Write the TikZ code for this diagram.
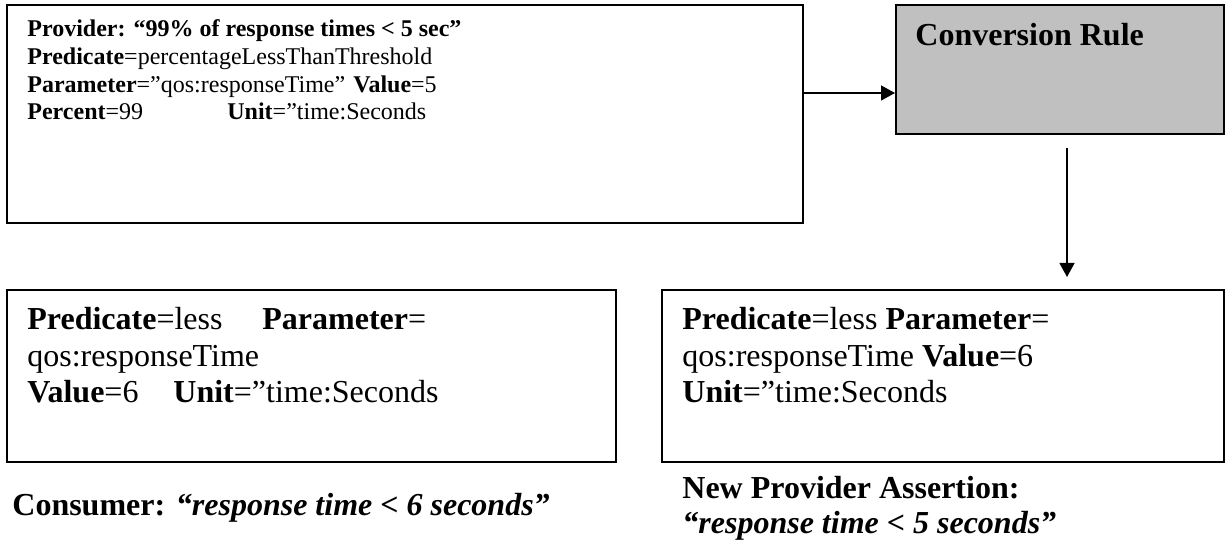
\documentclass[tikz,border=0pt]{standalone}
\usepackage{fontspec}
\setmainfont{Liberation Serif}
\usetikzlibrary{arrows.meta}
\tikzset{
  box/.style={draw, line width=0.9pt, inner sep=0pt, anchor=north west},
  t12/.style={anchor=base west, inner sep=0pt, font=\fontsize{12}{13.8}\selectfont},
  t16/.style={anchor=base west, inner sep=0pt, font=\fontsize{16}{18.4}\selectfont},
  arr/.style={line width=0.6pt, -{Triangle[length=7pt,width=7.5pt]}}
}
\begin{document}
\begin{tikzpicture}[x=0.5pt,y=-0.5pt]
\useasboundingbox (0,0) rectangle (1225,544);
% boxes
\node[box, minimum width=398pt, minimum height=109pt] (prov) at (6,4) {};
\node[box, fill={rgb,255:red,192;green,192;blue,192}, minimum width=164pt, minimum height=64.5pt] (conv) at (895,4) {};
\node[box, minimum width=304.5pt, minimum height=86pt] (cons) at (6,289) {};
\node[box, minimum width=281pt, minimum height=86pt] (newp) at (661,289) {};
% provider text
\node[t12] (p1) at (27,37) {\textbf{Provider: “99\% of response times < 5 sec”}};
\node[t12] (p2) at (27,65) {\textbf{Predicate}=percentageLessThanThreshold};
\node[t12] (p3) at (27,93) {\textbf{Parameter}=”qos:responseTime”};
\node[t12] (p3b) at (353,93) {\textbf{Value}=5};
\node[t12] (p4) at (27,120) {\textbf{Percent}=99};
\node[t12] (p4b) at (227,120) {\textbf{Unit}=”time:Seconds};
% conversion
\node[t16] (c1) at (915,46) {\textbf{Conversion Rule}};
% consumer box text
\node[t16] (q1) at (27,330) {\textbf{Predicate}=less};
\node[t16] (q1b) at (262,330) {\textbf{Parameter}=};
\node[t16] (q2) at (27,367) {qos:responseTime};
\node[t16] (q3) at (27,403) {\textbf{Value}=6};
\node[t16] (q3b) at (173,403) {\textbf{Unit}=”time:Seconds};
% new provider box text
\node[t16] (n1) at (682,330) {\textbf{Predicate}=less \textbf{Parameter}=};
\node[t16] (n2) at (682,367) {qos:responseTime \textbf{Value}=6};
\node[t16] (n3) at (682,403) {\textbf{Unit}=”time:Seconds};
% labels
\node[t16] (lc) at (12,516) {\textbf{Consumer: \textit{“response time < 6 seconds”}}};
\node[t16] (ln1) at (682,499) {\textbf{New Provider Assertion:}};
\node[t16] (ln2) at (682,533) {\textbf{\textit{“response time < 5 seconds”}}};
% connectors
\draw[arr] (prov.east |- 0,93) -- (conv.west |- 0,93);
\coordinate (d1) at (1067,148);
\coordinate (d2) at (1067,277);
\draw[arr] (d1) -- (d2);
\end{tikzpicture}
\end{document}
